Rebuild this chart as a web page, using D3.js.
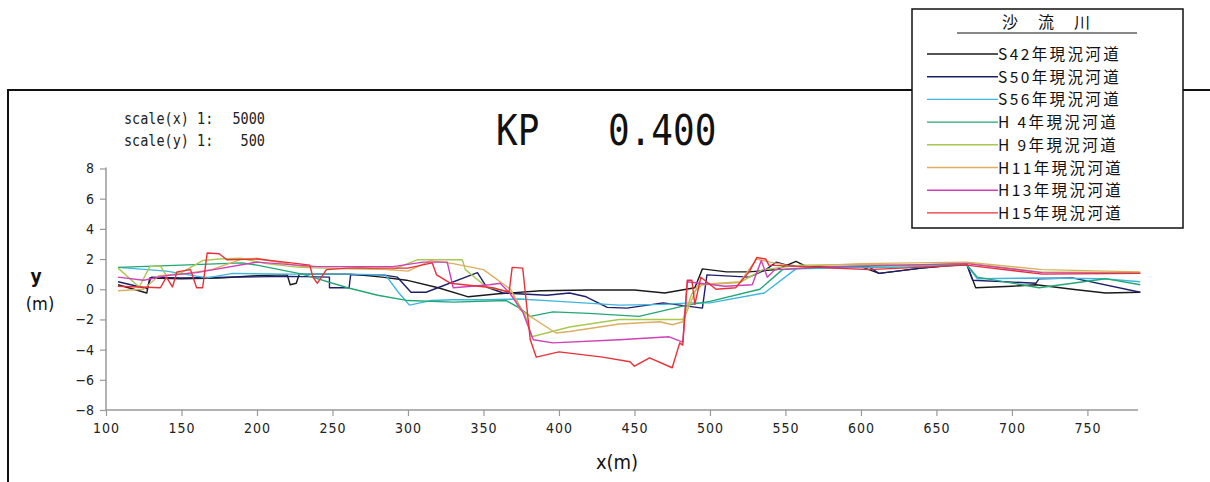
<!DOCTYPE html>
<html>
<head>
<meta charset="utf-8">
<script src="https://cdn.jsdelivr.net/npm/d3@7"></script>
<style>
  html, body { margin: 0; padding: 0; background: #fff; overflow: hidden; }
  svg { display: block; }
  text { white-space: pre; }
</style>
</head>
<body>
<svg id="chart" width="1210" height="482"></svg>
<script>
// ── Data (x [m], y [m]) ──
const sectionName = '沙　流　川';
const kpLabel = '0.400';
const xTicks = [100, 150, 200, 250, 300, 350, 400, 450, 500, 550, 600, 650, 700, 750];
const yTicks = [-8, -6, -4, -2, 0, 2, 4, 6, 8];

const seriesNames = ['S42年現況河道', 'S50年現況河道', 'S56年現況河道', 'H 4年現況河道',
  'H 9年現況河道', 'H11年現況河道', 'H13年現況河道', 'H15年現況河道'];
const seriesColors = ['#1a1a1a', '#1e1e6e', '#3fb6e0', '#22a874', '#a8c850', '#dcae60', '#d040b8', '#e83038'];

const s42 = [[108,0.3],[127,-0.25],[129,0.75],[150,0.7],[175,0.75],[200,0.9],[220,0.95],[222,0.3],[226,0.4],[228,1.0],
  [250,1.0],[262,1.0],[283,0.8],[299,0.6],[320,0.1],[340,-0.5],[360,-0.3],[388,-0.1],[420,-0.05],[450,-0.05],[470,-0.25],
  [490,0.1],[495,1.35],[511,1.15],[526,1.15],[544,1.3],[557,1.85],[564,1.5],[600,1.5],[612,1.05],[640,1.4],[670,1.7],
  [676,0.1],[700,0.2],[716,0.3],[740,0.0],[762,-0.25],[785,-0.2]];
const s50 = [[108,0.5],[127,0.05],[130,0.8],[150,0.75],[182,0.8],[222,0.85],[248,0.8],[248,0.1],[261,0.1],[262,0.95],
  [283,0.95],[293,0.8],[302,-0.2],[312,-0.2],[346,1.1],[352,0.15],[363,-0.25],[392,-0.4],[407,-0.25],[418,-0.5],[432,-1.2],
  [445,-1.25],[469,-0.9],[480,-1.05],[495,-1.25],[498,0.95],[526,0.8],[537,1.3],[544,1.8],[551,1.6],[575,1.45],[605,1.5],
  [612,1.05],[640,1.4],[670,1.65],[674,0.6],[716,0.4],[718,0.7],[740,0.75],[785,-0.2]];
const s56 = [[108,1.45],[140,1.2],[167,0.75],[184,1.05],[220,1.0],[261,1.0],[285,0.95],[294,-0.25],[301,-1.05],[315,-0.75],
  [330,-0.7],[350,-0.7],[374,-0.65],[400,-0.8],[440,-1.05],[470,-1.0],[486,-0.9],[500,-0.9],[536,-0.25],[557,1.35],
  [580,1.4],[620,1.45],[670,1.6],[677,0.7],[720,0.75],[760,0.7],[785,0.5]];
const h04 = [[108,1.45],[150,1.6],[190,1.75],[200,1.6],[230,1.0],[260,0.1],[280,-0.4],[300,-0.75],[330,-0.85],[365,-0.75],
  [374,-1.25],[381,-1.8],[396,-1.5],[420,-1.6],[453,-1.8],[485,-1.05],[500,-0.8],[533,0.0],[548,1.3],[580,1.5],[620,1.55],
  [670,1.65],[677,0.8],[718,0.1],[762,0.7],[785,0.3]];
const h09 = [[108,1.4],[122,0.15],[129,1.5],[136,1.55],[140,0.9],[150,1.1],[164,1.9],[175,2.0],[189,2.05],[206,1.7],
  [228,1.45],[261,1.35],[290,1.3],[306,1.95],[336,1.95],[338,1.3],[352,0.15],[369,-0.2],[378,-1.8],[382,-3.15],[407,-2.5],
  [440,-2.0],[482,-2.0],[488,-0.3],[495,0.3],[520,0.45],[535,1.3],[560,1.6],[600,1.65],[640,1.6],[670,1.75],[718,1.15],
  [785,1.1]];
const h11 = [[108,-0.1],[125,0.0],[135,0.9],[150,1.0],[170,1.3],[190,2.0],[200,2.05],[230,1.5],[260,1.5],[300,1.2],
  [315,1.9],[330,1.7],[350,1.3],[368,0.0],[374,-1.35],[398,-2.9],[407,-2.8],[440,-2.3],[467,-2.15],[475,-2.35],[482,-2.15],
  [492,0.3],[520,0.5],[531,2.0],[540,1.8],[555,1.5],[600,1.7],[670,1.8],[720,1.3],[785,1.15]];
const h13 = [[108,0.8],[125,0.6],[140,0.9],[160,1.1],[200,1.8],[240,1.5],[290,1.5],[310,1.8],[326,1.8],[330,0.1],
  [354,0.3],[361,0.4],[367,-0.2],[376,-1.5],[383,-3.35],[396,-3.55],[440,-3.35],[473,-3.15],[482,-3.5],[485,0.5],
  [510,0.2],[528,0.3],[534,1.9],[538,0.8],[543,1.3],[580,1.5],[670,1.7],[720,1.1],[785,1.05]];
const h15 = [[108,0.2],[122,0.15],[136,0.1],[140,0.8],[144,0.15],[147,1.15],[156,1.3],[160,0.1],[164,0.1],[167,2.4],
  [175,2.35],[180,1.95],[200,2.0],[227,1.7],[235,1.6],[237,0.8],[240,0.4],[246,1.3],[260,1.4],[300,1.4],[316,1.75],
  [319,0.95],[328,0.4],[356,0.1],[367,-0.2],[369,1.45],[376,1.4],[381,-3.35],[385,-4.5],[400,-4.15],[429,-4.5],[447,-4.8],
  [450,-5.1],[460,-4.55],[475,-5.2],[480,-3.55],[482,-3.7],[485,0.6],[488,0.6],[490,-1.0],[494,0.8],[504,0.0],[517,0.1],
  [526,1.15],[531,2.1],[537,2.0],[539,1.6],[560,1.5],[605,1.3],[670,1.6],[720,1.0],[785,1.05]];

const seriesData = [s42, s50, s56, h04, h09, h11, h13, h15];

// ── Setup ──
const svg = d3.select('#chart');
const sansFont = '"DejaVu Sans Condensed", "DejaVu Sans", sans-serif';
const jpFont = '"Noto Sans CJK JP", sans-serif';
const monoFont = '"DejaVu Sans Mono", monospace';

const x = d3.scaleLinear().domain([100, 783.5]).range([106, 1138]);
const y = d3.scaleLinear().domain([-8, 8]).range([410, 168.5]);

// outer frame
svg.append('rect').attr('x', 8).attr('y', 90).attr('width', 1260).attr('height', 460)
  .attr('fill', 'none').attr('stroke', '#111').attr('stroke-width', 2);

// scale notes
[['scale(x) 1:', '5000', 124], ['scale(y) 1:', '500', 146]].forEach(r => {
  const gT = svg.append('g').attr('transform', `translate(0,${r[2]}) scale(1,1.12)`);
  gT.append('text').attr('x', 124).attr('y', 0).text(r[0])
    .attr('font-family', monoFont).attr('font-size', '13.5px').attr('fill', '#222');
  gT.append('text').attr('x', 265).attr('y', 0).attr('text-anchor', 'end').text(r[1])
    .attr('font-family', monoFont).attr('font-size', '13.5px').attr('fill', '#222');
});

// title
const tg = svg.append('g').attr('transform', 'translate(0,145) scale(1,1.2)');
tg.append('text').attr('x', 496).attr('y', 0).text('KP')
  .attr('font-family', monoFont).attr('font-size', '36px').attr('fill', '#111');
tg.append('text').attr('x', 608).attr('y', 0).text(kpLabel)
  .attr('font-family', monoFont).attr('font-size', '36px').attr('fill', '#111');

// ── Axes ──
const axisColor = '#999';
const yAxis = svg.append('g').attr('transform', `translate(${x(100)},0)`)
  .call(d3.axisLeft(y).tickValues(yTicks).tickSize(6).tickPadding(6).tickFormat(d => d < 0 ? '−' + Math.abs(d) : d));
yAxis.select('.domain').attr('stroke', axisColor).attr('stroke-width', 1.5).attr('d', `M0,${y(8) - 1}V${y(-8)}`);
yAxis.selectAll('.tick line').attr('stroke', axisColor).attr('stroke-width', 1.2);
yAxis.selectAll('.tick text').attr('font-family', sansFont).attr('font-size', '14px').attr('fill', '#222');

const xAxis = svg.append('g').attr('transform', `translate(0,${y(-8)})`)
  .call(d3.axisBottom(x).tickValues(xTicks).tickSize(6).tickPadding(7));
xAxis.select('.domain').attr('stroke', axisColor).attr('stroke-width', 1.5).attr('d', `M${x(100)},0H${x(783.5)}`);
xAxis.selectAll('.tick line').attr('stroke', axisColor).attr('stroke-width', 1.2);
xAxis.selectAll('.tick text').attr('font-family', sansFont).attr('font-size', '14px').attr('fill', '#222')
  .attr('letter-spacing', '1px');

// axis titles
svg.append('text').attr('x', 36).attr('y', 283).attr('text-anchor', 'middle').text('y')
  .attr('font-family', sansFont).attr('font-size', '19px').attr('font-weight', 'bold').attr('fill', '#111');
svg.append('text').attr('x', 40).attr('y', 310).attr('text-anchor', 'middle').text('(m)')
  .attr('font-family', sansFont).attr('font-size', '18px').attr('fill', '#111');
svg.append('text').attr('x', 617).attr('y', 469).attr('text-anchor', 'middle').text('x(m)')
  .attr('font-family', sansFont).attr('font-size', '20px').attr('fill', '#111');

// ── Lines ──
const line = d3.line().x(d => x(d[0])).y(d => y(d[1]));
svg.append('g').selectAll('path').data(seriesData).enter().append('path')
  .attr('d', line)
  .attr('fill', 'none')
  .attr('stroke', (d, i) => seriesColors[i])
  .attr('stroke-width', 1.4)
  .attr('stroke-linejoin', 'round');

// ── Legend ──
const lg = svg.append('g');
lg.append('rect').attr('x', 912).attr('y', 9).attr('width', 271).attr('height', 219)
  .attr('fill', '#fff').attr('stroke', '#111').attr('stroke-width', 1.5);
lg.append('text').attr('x', 1047).attr('y', 28).attr('text-anchor', 'middle').text(sectionName)
  .attr('font-family', jpFont).attr('font-size', '16px').attr('letter-spacing', '2px').attr('fill', '#111');
lg.append('line').attr('x1', 957).attr('x2', 1137).attr('y1', 33).attr('y2', 33)
  .attr('stroke', '#111').attr('stroke-width', 1);
seriesNames.forEach((n, i) => {
  const cy = 54 + i * 22.7;
  lg.append('line').attr('x1', 927).attr('x2', 998).attr('y1', cy).attr('y2', cy)
    .attr('stroke', seriesColors[i]).attr('stroke-width', 1.4);
  lg.append('text').attr('x', 998).attr('y', cy + 6).text(n)
    .attr('font-family', jpFont).attr('font-size', '15.5px').attr('letter-spacing', '2.4px').attr('fill', '#111');
});
</script>
</body>
</html>
